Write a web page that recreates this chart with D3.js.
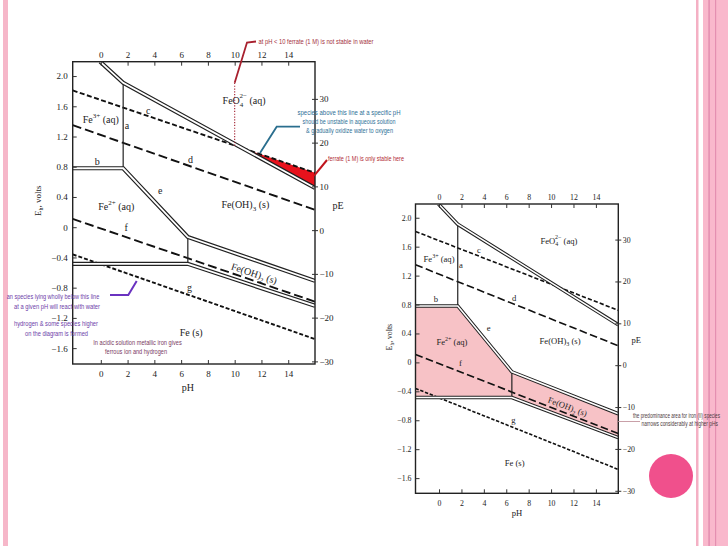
<!DOCTYPE html>
<html><head><meta charset="utf-8">
<script src="https://cdn.jsdelivr.net/npm/d3@7"></script>
<style>html,body{margin:0;padding:0;background:#fff;overflow:hidden}</style>
</head><body><svg id="s" width="728" height="546"></svg>
<script>
// ---- data ----
const phTicks = [0, 2, 4, 6, 8, 10, 12, 14];
const eTicks = [2.0, 1.6, 1.2, 0.8, 0.4, 0, -0.4, -0.8, -1.2, -1.6];
const pETicks = [30, 20, 10, 0, -10, -20, -30];
const phDomain = [-2.1, 16];
const eDomain = [-1.81, 2.19];
const pEDomain = [-30.6, 38.5];
// boundary lines as [pH, E] points
const ferrateLine = [[-0.05, 2.19], [1.67, 1.91], [16, 0.52]];   // double
const lineA = [[1.67, 1.91], [1.67, 0.78]];
const lineBE = [[-2.1, 0.78], [1.67, 0.78], [6.5, -0.13], [16, -0.71]]; // double (b then e)
const lineVert = [[6.5, -0.13], [6.5, -0.485]];
const lineFe = [[-2.1, -0.485], [6.5, -0.485], [16, -1.04]];      // double
const lineC = [[-2.1, 1.81], [16, 0.72]];
const lineD = [[-2.1, 1.35], [16, 0.23]];
const lineF = [[-2.1, 0.11], [16, -0.985]];
const lineG = [[-2.1, -0.36], [16, -1.48]];

const regionLabels = [
  {k: 'Fe3', pH: 0.0, E: 1.43},
  {k: 'a', pH: 1.95, E: 1.34},
  {k: 'b', pH: -0.27, E: 0.87},
  {k: 'c', pH: 3.55, E: 1.55},
  {k: 'd', pH: 6.7, E: 0.89},
  {k: 'FeO4', pH: 10.7, E: 1.68},
  {k: 'FeOH3', pH: 10.8, E: 0.30},
  {k: 'Fe2', pH: 1.15, E: 0.28},
  {k: 'e', pH: 4.43, E: 0.48},
  {k: 'f', pH: 1.9, E: -0.01},
  {k: 'FeOH2', pH: 11.38, E: -0.61},
  {k: 'g', pH: 6.63, E: -0.80},
  {k: 'Fes', pH: 6.75, E: -1.39}
];

const svg = d3.select('#s');
const SERIF = "'Liberation Serif','Times New Roman',serif";
const NARROW = "'Liberation Sans Narrow','Liberation Sans',Arial,sans-serif";

// ---- slide decoration ----
svg.append('rect').attr('x', 3).attr('y', 0).attr('width', 5).attr('height', 546).attr('fill', '#f6b7c9');
svg.append('rect').attr('x', 696).attr('y', 0).attr('width', 2.5).attr('height', 546).attr('fill', '#f4b0c4');
svg.append('rect').attr('x', 703).attr('y', 0).attr('width', 25).attr('height', 546).attr('fill', '#f9b8cc');
svg.append('rect').attr('x', 708.3).attr('y', 0).attr('width', 1.6).attr('height', 546).attr('fill', '#e48fb1');
svg.append('rect').attr('x', 715).attr('y', 0).attr('width', 1.2).attr('height', 546).attr('fill', '#e48fb1');

function segIntersect(p1, p2, p3, p4) {
  const d = (p2[0]-p1[0])*(p4[1]-p3[1]) - (p2[1]-p1[1])*(p4[0]-p3[0]);
  const t = ((p3[0]-p1[0])*(p4[1]-p3[1]) - (p3[1]-p1[1])*(p4[0]-p3[0])) / d;
  return [p1[0] + t*(p2[0]-p1[0]), p1[1] + t*(p2[1]-p1[1])];
}

function addLabel(g, k, px, py, fs, rot) {
  const t = g.append('text').attr('font-family', SERIF).attr('font-size', fs)
    .attr('fill', '#222').attr('text-anchor', 'middle')
    .attr('transform', `translate(${px},${py + fs*0.35}) rotate(${rot||0})`);
  const s = fs*0.7;
  const sp = (txt, opt) => { const ts = t.append('tspan').text(txt); if (opt) Object.entries(opt).forEach(([a,v]) => ts.attr(a, v)); return ts; };
  switch (k) {
    case 'Fe3': sp('Fe'); sp('3+', {dy: -fs*0.45, 'font-size': s}); sp(' (aq)', {dy: fs*0.45}); break;
    case 'Fe2': sp('Fe'); sp('2+', {dy: -fs*0.45, 'font-size': s}); sp(' (aq)', {dy: fs*0.45}); break;
    case 'FeO4': sp('FeO'); sp('4', {dy: fs*0.3, 'font-size': s}); sp('2−', {dx: -s*0.55, dy: -fs*0.85, 'font-size': s}); sp(' (aq)', {dy: fs*0.55}); break;
    case 'FeOH3': sp('Fe(OH)'); sp('3', {dy: fs*0.3, 'font-size': s}); sp(' (s)', {dy: -fs*0.3}); break;
    case 'FeOH2': sp('Fe(OH)'); sp('2', {dy: fs*0.3, 'font-size': s}); sp(' (s)', {dy: -fs*0.3}); break;
    case 'Fes': sp('Fe (s)'); break;
    default: sp(k);
  }
}

function drawChart(cfg) {
  const x = d3.scaleLinear().domain(phDomain).range([cfg.x0, cfg.x1]);
  const y = d3.scaleLinear().domain(eDomain).range([cfg.y1, cfg.y0]);
  const ype = d3.scaleLinear().domain(pEDomain).range([cfg.y1, cfg.y0]);
  const g = svg.append('g');
  g.append('clipPath').attr('id', 'clip' + cfg.id).append('rect')
    .attr('x', cfg.x0).attr('y', cfg.y0).attr('width', cfg.x1 - cfg.x0).attr('height', cfg.y1 - cfg.y0);
  const pg = g.append('g').attr('clip-path', `url(#clip${cfg.id})`);
  const line = d3.line().x(d => x(d[0])).y(d => y(d[1]));
  const k = cfg.k;

  if (cfg.pink) {
    const poly = lineBE.concat(lineFe.slice().reverse());
    pg.append('path').attr('d', line(poly) + 'Z').attr('fill', '#f7c2c6');
  }
  if (cfg.red) {
    const cross = segIntersect(lineC[0], lineC[1], ferrateLine[1], ferrateLine[2]);
    const poly = [cross, lineC[1], ferrateLine[2]];
    pg.append('path').attr('d', line(poly) + 'Z').attr('fill', '#e8121c');
  }
  const dashed = [
    [lineC, `${5*k},${2.5*k}`], [lineD, `${9*k},${4*k}`],
    [lineF, `${9*k},${4*k}`], [lineG, `${4*k},${2*k}`]
  ];
  dashed.forEach(([pts, da]) => pg.append('path').attr('d', line(pts)).attr('fill', 'none')
    .attr('stroke', '#111').attr('stroke-width', 1.9*k).attr('stroke-dasharray', da));
  [lineA, lineVert].forEach(pts => pg.append('path').attr('d', line(pts)).attr('fill', 'none')
    .attr('stroke', '#222').attr('stroke-width', 1.2));
  [ferrateLine, lineBE, lineFe].forEach(pts => {
    pg.append('path').attr('d', line(pts)).attr('fill', 'none').attr('stroke', '#222')
      .attr('stroke-width', 4.2*k).attr('stroke-linejoin', 'miter');
    pg.append('path').attr('d', line(pts)).attr('fill', 'none').attr('stroke', cfg.pink && pts !== ferrateLine ? '#fff' : '#fff')
      .attr('stroke-width', 1.8*k).attr('stroke-linejoin', 'miter');
  });

  // frame
  g.append('rect').attr('x', cfg.x0).attr('y', cfg.y0).attr('width', cfg.x1 - cfg.x0)
    .attr('height', cfg.y1 - cfg.y0).attr('fill', 'none').attr('stroke', '#222').attr('stroke-width', 1.4);

  const fmtE = d => d === 0 ? '0' : d3.format('.1f')(d).replace('-', '−');
  const fmtPE = d => String(d).replace('-', '−');
  const styleAxis = (a, fs) => {
    a.select('.domain').remove();
    a.selectAll('text').attr('font-family', SERIF).attr('font-size', fs).attr('fill', '#222');
    a.selectAll('line').attr('stroke', '#333');
  };
  styleAxis(g.append('g').attr('transform', `translate(0,${cfg.y0})`)
    .call(d3.axisTop(x).tickValues(phTicks).tickSize(-4).tickPadding(cfg.topPad).tickSizeOuter(0)), cfg.tfs);
  styleAxis(g.append('g').attr('transform', `translate(0,${cfg.y1})`)
    .call(d3.axisBottom(x).tickValues(phTicks).tickSize(-4).tickPadding(cfg.botPad).tickSizeOuter(0)), cfg.tfs);
  styleAxis(g.append('g').attr('transform', `translate(${cfg.x0},0)`)
    .call(d3.axisLeft(y).tickValues(eTicks).tickFormat(fmtE).tickSize(-4).tickPadding(cfg.leftPad).tickSizeOuter(0)), cfg.tfs);
  const ra = g.append('g').attr('transform', `translate(${cfg.x1},0)`)
    .call(d3.axisRight(ype).tickValues(pETicks).tickFormat(fmtPE).tickSize(3).tickPadding(1.5).tickSizeOuter(0));
  styleAxis(ra, cfg.tfs);
  ra.selectAll('line').attr('x1', -3);

  // axis titles
  g.append('text').attr('x', (cfg.x0 + cfg.x1)/2 + cfg.phDx).attr('y', cfg.y1 + cfg.phDy)
    .attr('text-anchor', 'middle').attr('font-family', SERIF).attr('font-size', cfg.fs).attr('fill', '#222').text('pH');
  g.append('text').attr('x', cfg.x1 + cfg.pEDx).attr('y', y(cfg.pELabelE))
    .attr('text-anchor', 'middle').attr('font-family', SERIF).attr('font-size', cfg.fs).attr('fill', '#222').text('pE');
  const et = g.append('text').attr('transform', `translate(${cfg.x0 - cfg.eDx},${y(0.35)}) rotate(-90)`)
    .attr('text-anchor', 'middle').attr('font-family', SERIF).attr('font-size', cfg.fs*0.9).attr('fill', '#222');
  et.append('tspan').text('E');
  et.append('tspan').text('h').attr('font-size', cfg.fs*0.6).attr('dy', 2);
  et.append('tspan').text(', volts').attr('dy', -2);

  // region labels
  regionLabels.forEach(l => {
    let rot = 0;
    if (l.k === 'FeOH2') {
      const p1 = lineFe[1], p2 = lineFe[2];
      rot = Math.atan2(y(p2[1]) - y(p1[1]), x(p2[0]) - x(p1[0])) * 180 / Math.PI;
    }
    addLabel(g, l.k, x(l.pH), y(l.E), cfg.fs, rot);
  });
  return {x, y};
}

const L = drawChart({id: 'L', x0: 72.7, x1: 315, y0: 61.7, y1: 364, k: 1, fs: 10, tfs: 9,
  topPad: 4, botPad: 6.5, leftPad: 5, red: true, phDx: -6, phDy: 27, pEDx: 23, pELabelE: 0.24, eDx: 32});
const R = drawChart({id: 'R', x0: 415.5, x1: 618.3, y0: 204, y1: 493.3, k: 0.85, fs: 8.6, tfs: 7.8,
  topPad: 4.5, botPad: 7.2, leftPad: 4, pink: true, phDx: 0, phDy: 23, pEDx: 18, pELabelE: 0.27, eDx: 24});

// ---- annotations ----
const ann = svg.append('g');
function atext(str, x, y, w, color, anchor) {
  ann.append('text').attr('x', x).attr('y', y).attr('font-family', NARROW).attr('font-size', 7.6)
    .attr('fill', color).attr('text-anchor', anchor || 'start')
    .attr('textLength', w).attr('lengthAdjust', 'spacingAndGlyphs').text(str);
}
function aline(pts, color, w, dash) {
  ann.append('path').attr('d', d3.line()(pts)).attr('fill', 'none').attr('stroke', color)
    .attr('stroke-width', w).attr('stroke-dasharray', dash || null);
}
// ferrate not stable below pH 10
aline([[L.x(10), L.y(1.91)], [L.x(10), L.y(1.07)]], '#a01c2c', 1.1, '1.2,1.6');
aline([[256, 41.5], [247, 42.5], [L.x(10), L.y(1.91)]], '#a8202e', 1.8);
atext('at pH < 10 ferrate (1 M) is not stable in water', 258.5, 43.5, 115, '#a3303c');
// oxidize water
aline([[300, 126.7], [276.7, 126.7], [260, 153]], '#2a6e8e', 1.8);
atext('species above this line at a specific pH', 349, 114.5, 103, '#2e6f96', 'middle');
atext('should be unstable in aqueous solution', 349, 123.5, 93, '#2e6f96', 'middle');
atext('& gradually oxidize water to oxygen', 349.5, 132.5, 87, '#2e6f96', 'middle');
// ferrate stable region
aline([[327, 160], [L.x(16) - 1, L.y(0.68)]], '#c0141c', 2);
atext('ferrate (1 M) is only stable here', 328, 160.5, 76, '#b02a33');
// purple: below line g
aline([[110, 295], [128.3, 295], [136.7, 281]], '#6a32c0', 2);
atext('an species lying wholly below this line', 53, 298.5, 92.5, '#6c3da8', 'middle');
atext('at a given pH will  react with water', 57, 308.5, 86, '#6c3da8', 'middle');
atext('hydrogen & some species higher', 56, 326, 84, '#6c3da8', 'middle');
atext('on the diagram is formed', 56.5, 336, 63, '#6c3da8', 'middle');
// maroon
atext('In acidic solution metallic iron gives', 137.5, 345, 88.5, '#7a3a62', 'middle');
atext('ferrous ion and hydrogen', 136, 354, 62, '#7a3a62', 'middle');
// right chart note
aline([[618.3, 421.5], [640, 421.5]], '#c9a0a8', 1);
atext('the predominance area for iron (II) species', 633, 417.5, 87, '#4d3a40');
atext('narrows considerably at higher pHs', 641.5, 426, 76.5, '#4d3a40');

// pink dot
svg.append('circle').attr('cx', 671).attr('cy', 476).attr('r', 22).attr('fill', '#f0508c');
</script>
</body></html>
